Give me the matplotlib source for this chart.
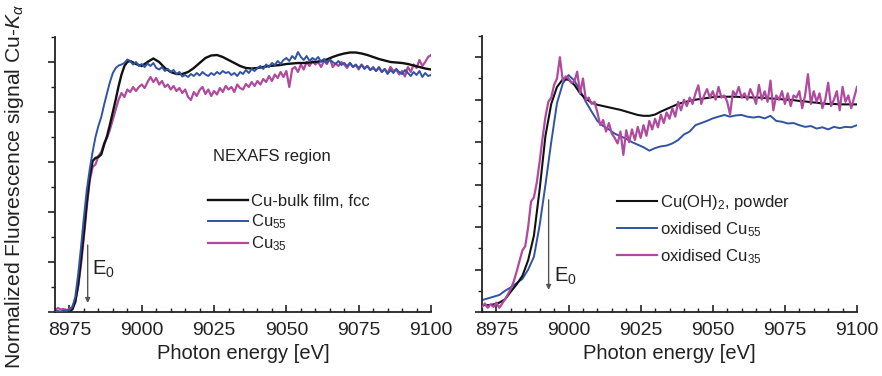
import numpy as np
import matplotlib
matplotlib.use("Agg")
import matplotlib.pyplot as plt
from matplotlib.ticker import MultipleLocator

plt.rcParams['font.family'] = ['Liberation Sans', 'DejaVu Sans']
plt.rcParams['mathtext.fontset'] = 'custom'
plt.rcParams['mathtext.rm'] = 'Liberation Sans'
plt.rcParams['mathtext.it'] = 'Liberation Sans:italic'
plt.rcParams['mathtext.bf'] = 'Liberation Sans:bold'

# ---------------- data: left panel (NEXAFS region) ----------------
e_grid = np.arange(8970, 9101, 1)

left_bulk_e = [8970, 8972, 8974, 8975, 8976, 8977, 8978, 8979, 8980, 8981, 8982, 8983, 8984,
               8985, 8986, 8987, 8988, 8989, 8990, 8991, 8992, 8993, 8994, 8995, 8996,
               8998, 9000, 9002, 9004, 9006, 9008, 9010, 9012, 9014, 9016, 9018, 9020,
               9022, 9024, 9026, 9028, 9030, 9032, 9034, 9036, 9038, 9040, 9042, 9044,
               9046, 9048, 9050, 9052, 9054, 9056, 9058, 9060, 9062, 9064, 9066, 9068,
               9070, 9072, 9074, 9076, 9078, 9080, 9082, 9084, 9086, 9088, 9090, 9092,
               9094, 9096, 9098, 9100]
left_bulk = [0.0, 0.0, 0.02, 0.03, 0.05, 0.2, 0.55, 1.05, 1.6, 2.2, 2.7, 3.02, 3.08,
             3.1, 3.15, 3.35, 3.52, 3.75, 4.0, 4.25, 4.52, 4.75, 4.92, 5.0, 5.02,
             4.96, 4.92, 5.0, 5.07, 5.0, 4.88, 4.8, 4.76, 4.76, 4.8, 4.88, 4.98,
             5.08, 5.13, 5.14, 5.1, 5.04, 4.98, 4.92, 4.88, 4.87, 4.88, 4.9, 4.92,
             4.93, 4.94, 4.96, 4.97, 4.98, 4.98, 4.99, 5.0, 5.02, 5.05, 5.1, 5.14,
             5.17, 5.19, 5.19, 5.17, 5.14, 5.1, 5.06, 5.03, 5.0, 4.99, 4.98, 4.96,
             4.93, 4.9, 4.87, 4.85]

left_cu55 = [0.0, 0.02, 0.0, 0.03, 0.02, 0.04, 0.1, 0.3, 0.75, 1.3,
             1.9, 2.45, 2.85, 3.2, 3.5, 3.72, 3.9, 4.15, 4.38, 4.6,
             4.78, 4.88, 4.93, 4.95, 4.98, 5.05, 5.02, 4.95, 5.0, 4.92,
             4.96, 4.9, 4.97, 4.92, 4.98, 4.88, 4.85, 4.9, 4.82, 4.86,
             4.8, 4.84, 4.76, 4.8, 4.71, 4.74, 4.7, 4.76, 4.72, 4.78,
             4.73, 4.8, 4.75, 4.72, 4.78, 4.74, 4.8, 4.76, 4.82, 4.78,
             4.8, 4.74, 4.78, 4.72, 4.8, 4.76, 4.84, 4.78, 4.86, 4.82,
             4.88, 4.92, 4.86, 4.95, 4.9, 4.98, 4.94, 5.02, 4.96, 5.04,
             5.08, 5.02, 5.12, 5.06, 5.2, 5.1, 5.04, 5.12, 5.02, 5.08,
             5.04, 5.1, 5.0, 5.06, 4.98, 5.05, 5.0, 4.96, 5.02, 4.94,
             4.98, 4.92, 4.98, 4.9, 4.95, 4.88, 4.94, 4.86, 4.92, 4.84,
             4.88, 4.82, 4.9, 4.8, 4.86, 4.76, 4.84, 4.78, 4.86, 4.8,
             4.76, 4.84, 4.78, 4.72, 4.8, 4.74, 4.82, 4.7, 4.78, 4.72,
             4.74]

left_cu35 = [0.03, 0.08, 0.05, 0.06, 0.04, 0.06, 0.1, 0.22, 0.5, 0.95,
             1.5, 2.1, 2.62, 2.9, 2.95, 3.12, 3.2, 3.38, 3.48, 3.65,
             3.85, 4.05, 4.25, 4.38, 4.3, 4.45, 4.4, 4.5, 4.42, 4.5,
             4.55, 4.48, 4.6, 4.7, 4.6, 4.68, 4.55, 4.62, 4.5, 4.55,
             4.45, 4.52, 4.42, 4.48, 4.38, 4.45, 4.3, 4.24, 4.4, 4.32,
             4.44, 4.5, 4.36, 4.45, 4.32, 4.42, 4.35, 4.48, 4.4, 4.52,
             4.45, 4.5, 4.4, 4.55, 4.48, 4.45, 4.56, 4.5, 4.6, 4.52,
             4.62, 4.55, 4.66, 4.6, 4.72, 4.62, 4.75, 4.68, 4.8, 4.7,
             4.82, 4.5, 4.86, 4.9, 4.8, 4.95, 4.85, 5.0, 4.92, 5.02,
             4.95, 5.0, 4.9, 5.02, 4.96, 5.08, 4.9, 4.97, 4.92, 5.0,
             4.95, 4.88, 4.98, 4.9, 4.94, 4.85, 4.95, 4.88, 4.92, 4.84,
             4.9, 4.82, 4.88, 4.8, 4.86, 4.78, 4.9, 4.82, 4.85, 4.75,
             4.82, 4.71, 4.9, 4.8, 4.95, 4.88, 5.04, 4.92, 5.0, 5.1,
             5.14]

# ---------------- data: right panel (oxidised) ----------------
e_grid2 = np.arange(8970, 9101, 2)

right_cuoh = [0.16, 0.16, 0.18, 0.22, 0.3, 0.48, 0.65, 0.85, 1.22, 1.8,
              2.9, 4.15, 4.9, 5.3, 5.48, 5.47, 5.35, 5.15, 5.02, 4.93,
              4.88, 4.85, 4.82, 4.79, 4.76, 4.72, 4.68, 4.64, 4.62, 4.62,
              4.65, 4.72, 4.78, 4.84, 4.9, 4.94, 4.97, 5.0, 5.02, 5.04,
              5.06, 5.07, 5.07, 5.07, 5.07, 5.06, 5.06, 5.05, 5.05, 5.04,
              5.03, 5.02, 5.01, 5.0, 4.99, 4.97, 4.96, 4.94, 4.93, 4.91,
              4.9, 4.9, 4.89, 4.89, 4.89, 4.89]

right_ox55 = [0.28, 0.32, 0.36, 0.4, 0.5, 0.58, 0.68, 0.78, 1.0, 1.3,
              2.05, 3.0, 4.0, 4.92, 5.38, 5.58, 5.45, 5.22, 4.95, 4.72,
              4.5, 4.38, 4.3, 4.2, 4.14, 4.08, 4.0, 3.94, 3.88, 3.8,
              3.86, 3.9, 3.92, 3.97, 4.05, 4.18, 4.25, 4.4, 4.45, 4.5,
              4.56, 4.6, 4.64, 4.6, 4.63, 4.64, 4.6, 4.58, 4.6, 4.56,
              4.62, 4.5, 4.48, 4.44, 4.45, 4.4, 4.36, 4.38, 4.32, 4.35,
              4.3, 4.36, 4.33, 4.36, 4.35, 4.4]

right_ox35 = [0.12, 0.2, 0.1, 0.18, 0.12, 0.22, 0.1, 0.2, 0.3, 0.42,
              0.55, 0.72, 0.95, 1.2, 1.45, 1.55, 2.0, 2.6, 2.7, 3.05,
              3.55, 4.1, 4.6, 4.95, 5.05, 5.35, 5.5, 6.0, 5.45, 5.55,
              5.5, 5.4, 5.42, 5.66, 5.15, 5.5, 5.0, 5.05, 4.9, 4.95,
              4.7, 4.4, 4.52, 4.25, 4.45, 4.2, 4.1, 3.97, 4.25, 3.7,
              4.28, 4.0, 4.3, 4.05, 4.36, 4.1, 4.4, 4.15, 4.5, 4.3,
              4.55, 4.35, 4.65, 4.45, 4.7, 4.55, 4.8, 4.6, 4.95, 4.75,
              5.0, 4.85, 5.05, 4.9, 5.15, 5.34, 4.9, 5.1, 5.25, 5.05,
              5.2, 5.0, 5.3, 5.05, 5.1, 4.95, 4.65, 5.2, 5.1, 5.3,
              5.05, 5.15, 5.0, 5.25, 5.1, 4.9, 5.35, 5.0, 5.2, 4.95,
              5.45, 4.75, 5.1, 5.0, 5.2, 4.9, 5.15, 4.85, 5.1, 5.05,
              5.2, 4.8, 5.1, 5.6, 4.9, 5.2, 4.95, 5.15, 4.8, 5.0,
              5.4, 4.85, 5.0, 5.2, 4.75, 5.3, 4.95, 5.1, 4.8, 5.05,
              5.3]

left_labels = ["Cu-bulk film, fcc", "Cu$_{55}$", "Cu$_{35}$"]
right_labels = ["Cu(OH)$_{2}$, powder", "oxidised Cu$_{55}$", "oxidised Cu$_{35}$"]
x_ticks = [8975, 9000, 9025, 9050, 9075, 9100]

# E0 markers: (energy, arrow start, arrow end)
left_e0 = (8981.3, 1.34, 0.18)
right_e0 = (8993.1, 2.64, 0.52)

C_BLACK = '#111111'
C_BLUE = '#3153a3'
C_MAG = '#b04a9e'
TXT = '#222222'

fig = plt.figure(figsize=(8.82, 3.76), dpi=100)
axL = fig.add_axes([55/882, 1-312/376, 376/882, 275/376])
axR = fig.add_axes([482/882, 1-312/376, 375/882, 276/376])

def style(ax, ymax):
    ax.set_xlim(8970, 9100)
    ax.set_ylim(0, ymax)
    for s in ['top', 'right']:
        ax.spines[s].set_visible(False)
    for s in ['left', 'bottom']:
        ax.spines[s].set_linewidth(1.3)
        ax.spines[s].set_color('#222222')
    ax.set_xticks(x_ticks)
    ax.xaxis.set_minor_locator(MultipleLocator(5))
    ax.yaxis.set_major_locator(MultipleLocator(1))
    ax.yaxis.set_minor_locator(MultipleLocator(0.5))
    ax.tick_params(axis='x', which='major', direction='in', length=5, width=1.2,
                   labelsize=14, pad=7, colors='#222222')
    ax.tick_params(axis='x', which='minor', direction='in', length=3, width=1.0, colors='#222222')
    ax.tick_params(axis='y', which='major', direction='out', length=5, width=1.2,
                   labelleft=False, colors='#222222')
    ax.tick_params(axis='y', which='minor', direction='out', length=3, width=1.0, colors='#222222')
    ax.set_xlabel("Photon energy [eV]", fontsize=14.5, color=TXT, labelpad=4)
    ax.patch.set_alpha(0)

# Left panel
style(axL, 5.5)
l1, = axL.plot(left_bulk_e, left_bulk, color=C_BLACK, lw=1.7, label=left_labels[0], zorder=3)
l2, = axL.plot(e_grid, left_cu55, color=C_BLUE, lw=1.4, label=left_labels[1], zorder=4)
l3, = axL.plot(e_grid, left_cu35, color=C_MAG, lw=1.6, label=left_labels[2], zorder=2)
axL.text(0.42, 0.565, "NEXAFS region", transform=axL.transAxes, fontsize=12, color=TXT,
         va='center', ha='left')
legL = axL.legend(handles=[l1, l2, l3], loc='upper left', bbox_to_anchor=(0.406, 0.428),
                  frameon=False, fontsize=12, handlelength=2.4, handletextpad=0.2,
                  labelspacing=0.2, borderaxespad=0, borderpad=0)
for t in legL.get_texts():
    t.set_color(TXT)
axL.annotate("", xy=(left_e0[0], left_e0[2]), xytext=(left_e0[0], left_e0[1]),
             arrowprops=dict(arrowstyle='-|>', color='#555555', lw=1.0,
                             mutation_scale=7, shrinkA=0, shrinkB=0))
axL.text(left_e0[0] + 1.5, (left_e0[1] + left_e0[2]) / 2 + 0.1, "E$_0$", fontsize=14.5,
         color=TXT, va='center', ha='left')

# Right panel
style(axR, 6.5)
r1, = axR.plot(e_grid2, right_cuoh, color=C_BLACK, lw=1.5, label=right_labels[0], zorder=3)
r2, = axR.plot(e_grid2, right_ox55, color=C_BLUE, lw=1.4, label=right_labels[1], zorder=2)
r3, = axR.plot(e_grid, right_ox35, color=C_MAG, lw=1.6, label=right_labels[2], zorder=4)
legR = axR.legend(handles=[r1, r2, r3], loc='upper left', bbox_to_anchor=(0.36, 0.432),
                  frameon=False, fontsize=12, handlelength=2.4, handletextpad=0.2,
                  labelspacing=0.5, borderaxespad=0, borderpad=0)
for t in legR.get_texts():
    t.set_color(TXT)
axR.annotate("", xy=(right_e0[0], right_e0[2]), xytext=(right_e0[0], right_e0[1]),
             arrowprops=dict(arrowstyle='-|>', color='#555555', lw=1.0,
                             mutation_scale=7, shrinkA=0, shrinkB=0))
axR.text(right_e0[0] + 2.0, 0.85, "E$_0$", fontsize=14.5, color=TXT, va='center', ha='left')

# Y label
fig.text(15/882, 1 - 4/376, "Normalized Fluorescence signal Cu-$\\mathit{K}_{\\alpha}$",
         rotation=90, fontsize=15.2, color=TXT, ha='center', va='top')

fig.savefig("out.png", dpi=100)
